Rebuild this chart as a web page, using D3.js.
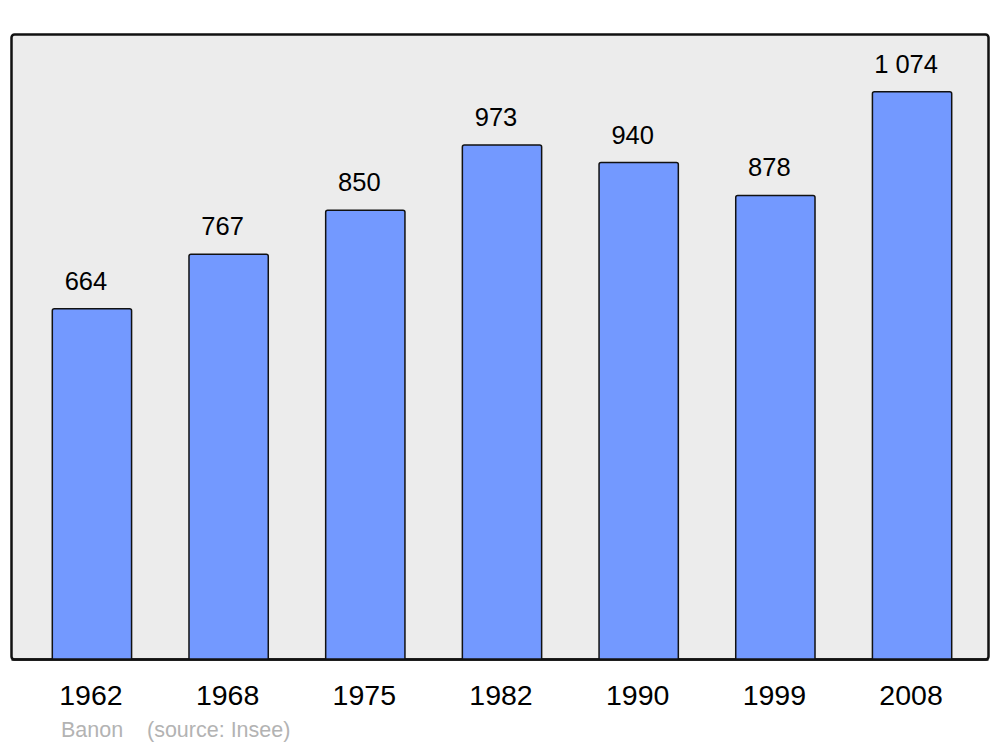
<!DOCTYPE html>
<html>
<head>
<meta charset="utf-8">
<script src="https://cdn.jsdelivr.net/npm/d3@7"></script>
<style>
  body { margin: 0; background: #fff; }
  text { font-family: "Liberation Sans", Arial, sans-serif; }
</style>
</head>
<body>
<svg id="chart" width="1000" height="747"></svg>
<script>
var years = ["1962", "1968", "1975", "1982", "1990", "1999", "2008"];
var population = [664, 767, 850, 973, 940, 878, 1074];
var valueLabels = ["664", "767", "850", "973", "940", "878", "1 074"];

var svg = d3.select("#chart");

// frame
svg.append("rect")
    .attr("x", 11.5).attr("y", 34.5)
    .attr("width", 977).attr("height", 625)
    .attr("rx", 3)
    .style("fill", "#ececec")
    .style("stroke", "#111")
    .style("stroke-width", 2.5);

var x = d3.scaleBand()
    .domain(years)
    .range([23.6, 980.4])
    .paddingInner(0.42)
    .paddingOuter(0.21);

var y = d3.scaleLinear()
    .domain([0, 1183])
    .range([660, 34]);

// bars with rounded top corners
function barPath(x0, y0, w, h) {
    var r = 2;
    return "M" + x0 + "," + (y0 + h) +
        "V" + (y0 + r) +
        "Q" + x0 + "," + y0 + " " + (x0 + r) + "," + y0 +
        "H" + (x0 + w - r) +
        "Q" + (x0 + w) + "," + y0 + " " + (x0 + w) + "," + (y0 + r) +
        "V" + (y0 + h);
}

var bars = svg.append("g");
years.forEach(function(yr, i) {
    var x0 = x(yr), y0 = y(population[i]);
    bars.append("path")
        .attr("d", barPath(x0, y0, x.bandwidth(), y(0) - y0))
        .style("fill", "#7399ff")
        .style("stroke", "#111")
        .style("stroke-width", 1.5);
    bars.append("text")
        .attr("x", x0 + x.bandwidth() / 2 - 6)
        .attr("y", y0 - 19)
        .attr("text-anchor", "middle")
        .style("font-size", "25.5px")
        .style("fill", "#000")
        .text(valueLabels[i]);
});

// redraw frame bottom line over bars
svg.append("line")
    .attr("x1", 11.5).attr("x2", 988.5)
    .attr("y1", 659.5).attr("y2", 659.5)
    .style("stroke", "#111")
    .style("stroke-width", 2.5);

// year labels
svg.append("g").selectAll("text")
    .data(years)
    .join("text")
    .attr("x", function(d) { return x(d) + x.bandwidth() / 2 - 1; })
    .attr("y", 705)
    .attr("text-anchor", "middle")
    .style("font-size", "28.5px")
    .style("fill", "#000")
    .text(function(d) { return d; });

svg.append("text")
    .attr("x", 61).attr("y", 737)
    .style("font-size", "21.5px")
    .style("fill", "#b3b3b3")
    .text("Banon");
svg.append("text")
    .attr("x", 147).attr("y", 737)
    .style("font-size", "21.5px")
    .style("fill", "#b3b3b3")
    .text("(source: Insee)");
</script>
</body>
</html>
